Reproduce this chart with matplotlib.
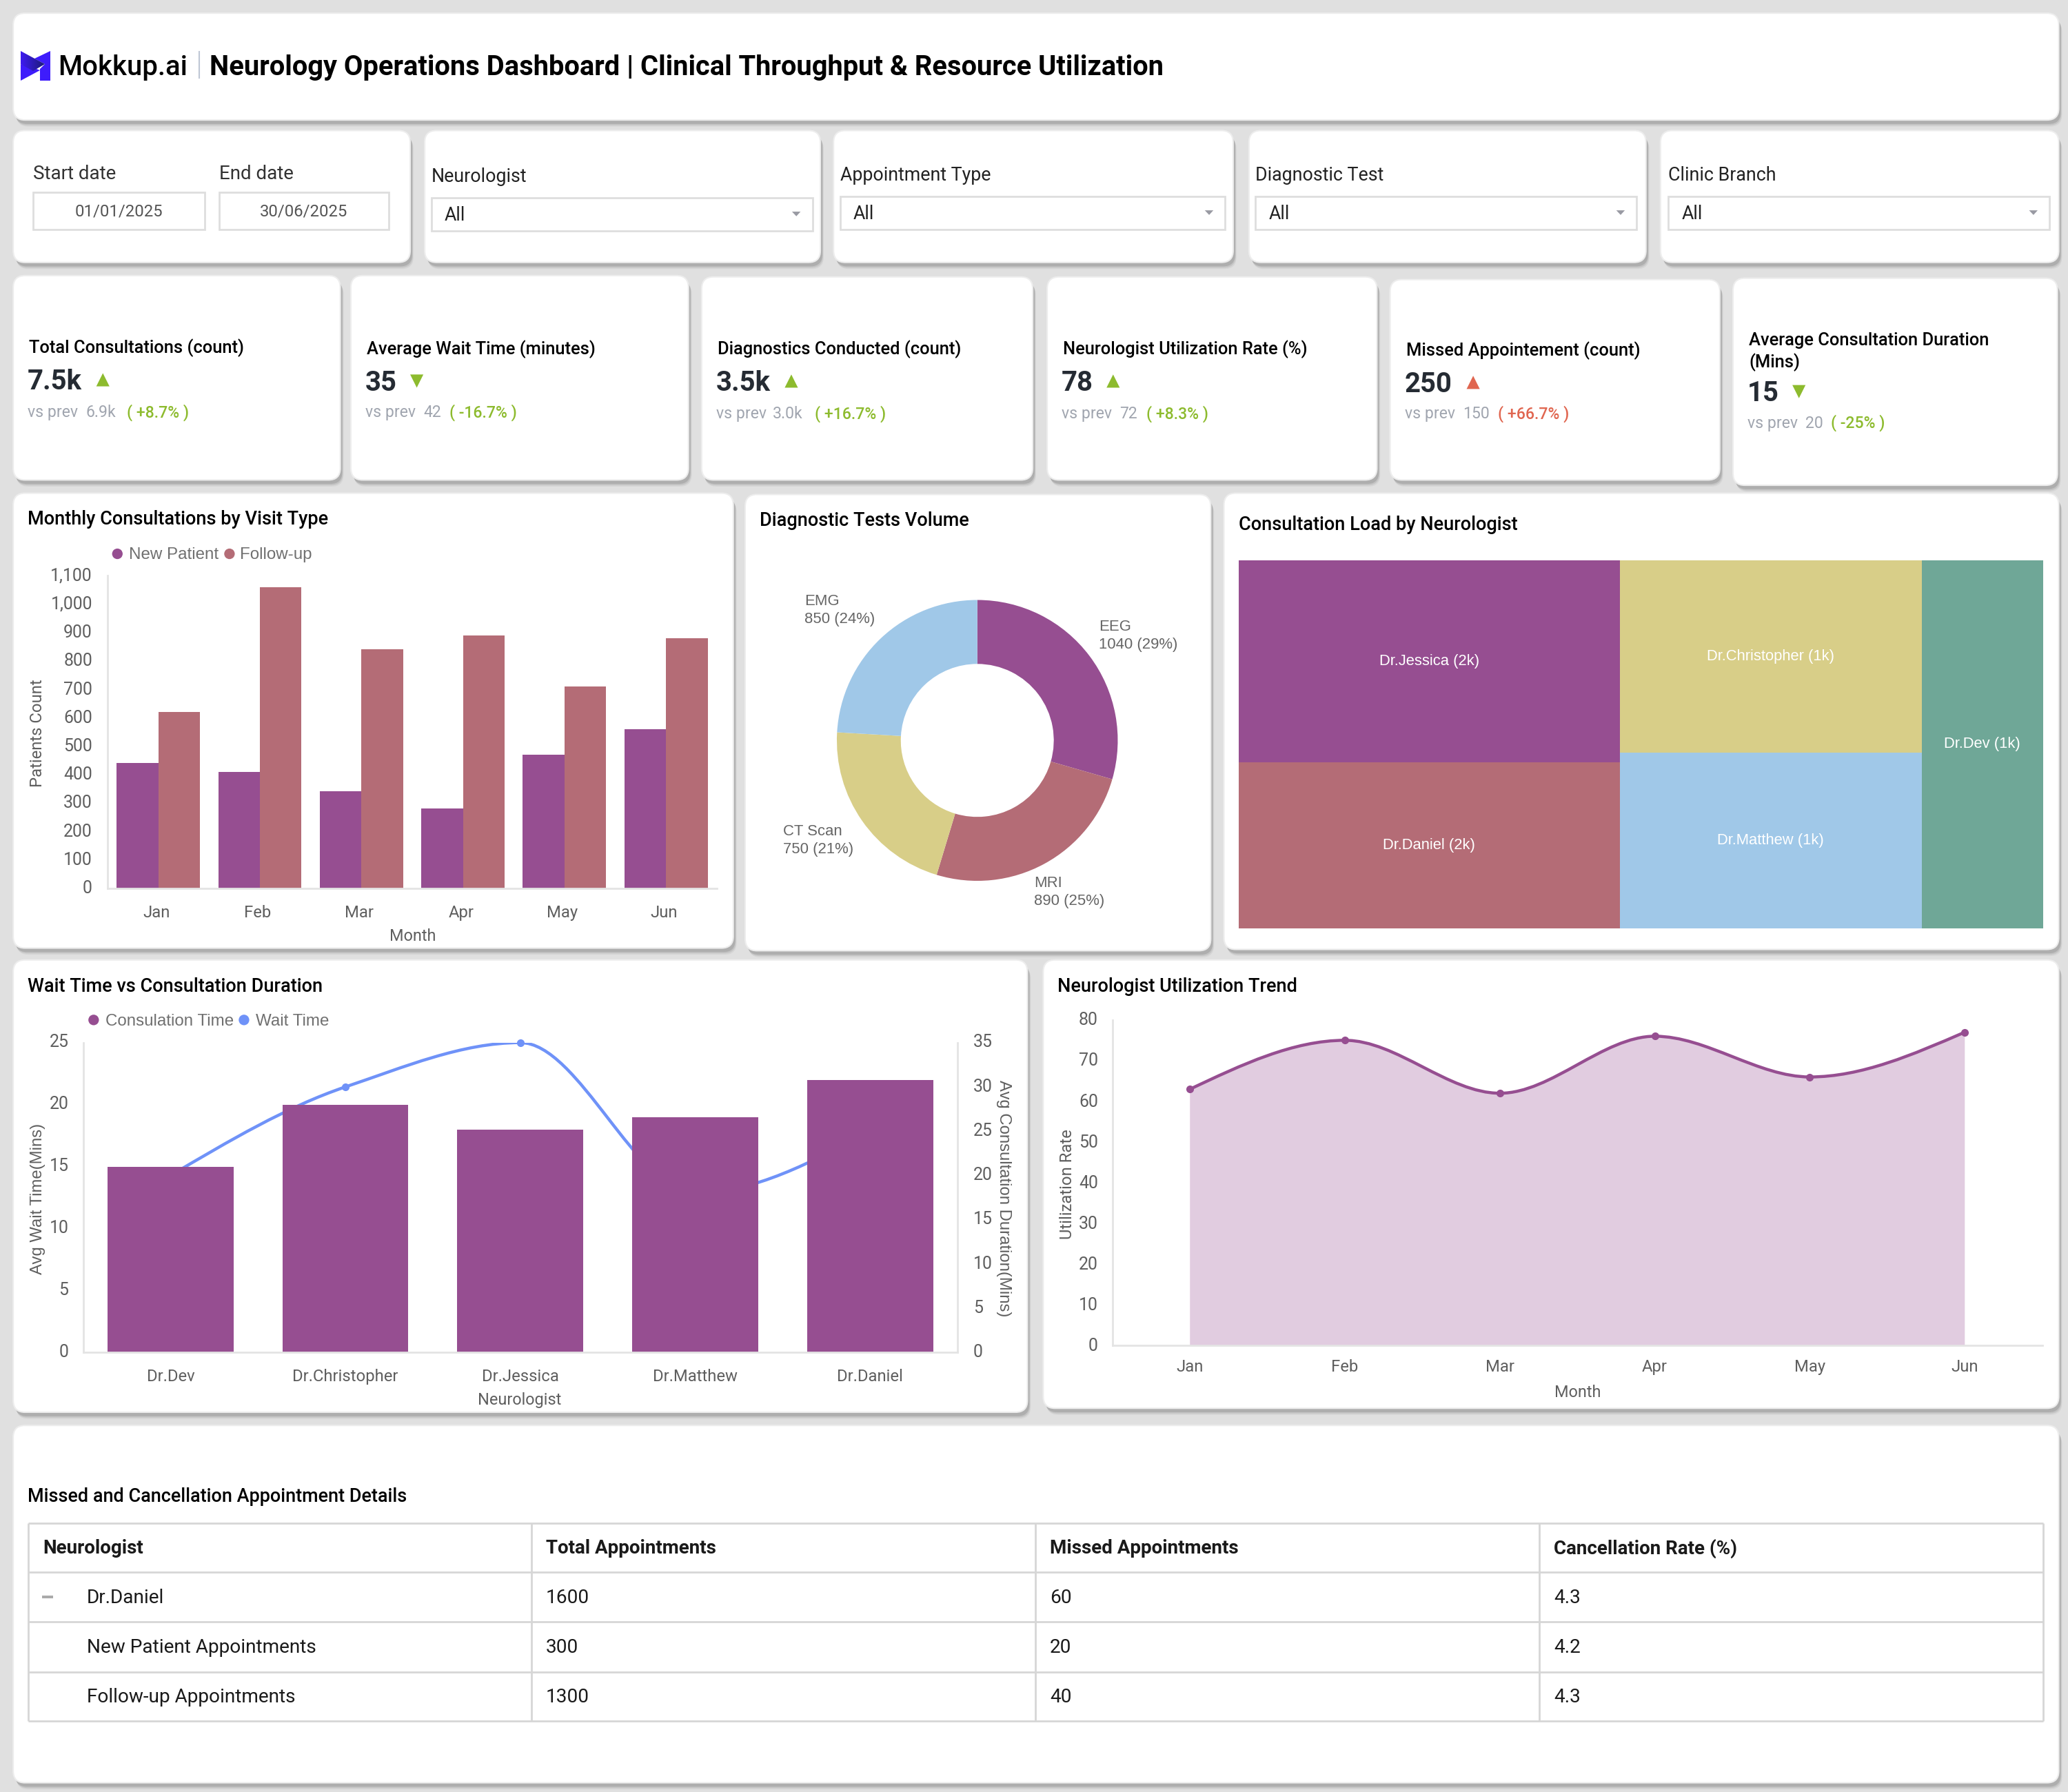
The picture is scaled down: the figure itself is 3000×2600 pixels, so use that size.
# Neurology operations dashboard, drawn with matplotlib

import matplotlib
matplotlib.use("Agg")
import matplotlib.pyplot as plt
import numpy as np
from matplotlib.colors import LinearSegmentedColormap
from matplotlib.patches import FancyBboxPatch, PathPatch, Polygon, Rectangle
from matplotlib.path import Path
from matplotlib.transforms import ScaledTranslation

plt.rcParams['font.family'] = ['Roboto', 'DejaVu Sans']

# Data
months = ['Jan', 'Feb', 'Mar', 'Apr', 'May', 'Jun']
new_patient = [440, 410, 340, 280, 470, 560]
follow_up = [620, 1060, 840, 890, 710, 880]

test_names = ['EEG', 'MRI', 'CT Scan', 'EMG']
test_counts = [1040, 890, 750, 850]

load_col1 = ['Dr.Jessica', 'Dr.Daniel']
load_col1_values = [1950, 1600]
load_col2 = ['Dr.Christopher', 'Dr.Matthew']
load_col2_values = [1470, 1340]
load_col3 = ['Dr.Dev']
load_col3_values = [1130]

neurologists = ['Dr.Dev', 'Dr.Christopher', 'Dr.Jessica', 'Dr.Matthew', 'Dr.Daniel']
consultation_time = [15, 20, 18, 19, 22]
wait_time = [20, 30, 35, 18, 25]

utilization = [63, 75, 62, 76, 66, 77]

filter_names = ['Neurologist', 'Appointment Type', 'Diagnostic Test', 'Clinic Branch']

kpi_titles = ['Total Consultations (count)', 'Average Wait Time (minutes)',
              'Diagnostics Conducted (count)', 'Neurologist Utilization Rate (%)',
              'Missed Appointement (count)', 'Average Consultation Duration\n(Mins)']
kpi_values = ['7.5k', '35', '3.5k', '78', '250', '15']
kpi_prev = ['6.9k', '42', '3.0k', '72', '150', '20']
kpi_delta = ['+8.7%', '-16.7%', '+16.7%', '+8.3%', '+66.7%', '-25%']
kpi_up = [True, False, True, True, True, False]
kpi_good = [True, True, True, True, False, True]

table_header = ['Neurologist', 'Total Appointments', 'Missed Appointments', 'Cancellation Rate (%)']
table_rows = [['Dr.Daniel', '1600', '60', '4.3'],
              ['New Patient Appointments', '300', '20', '4.2'],
              ['Follow-up Appointments', '1300', '40', '4.3']]

# Colours
PURPLE = '#964E91'
ROSE = '#B46C76'
YELLOW = '#D8CE88'
BLUE = '#A0C8E8'
TEAL = '#6FA797'
LINE_BLUE = '#6F92F8'
AREA = '#E1CCE0'
GREEN = '#8DBB2E'
RED = '#E06650'
TICK = '#5F5F5F'

# All layout numbers are on a 1568 wide canvas, SCALE brings them to pixels
W, H = 1568, 1359
SCALE = 3000 / W

fig = plt.figure(figsize=(30, 26), dpi=100, facecolor='#E0E0E0')
bg = fig.add_axes([0, 0, 1, 1], zorder=0)
bg.set_xlim(0, W)
bg.set_ylim(H, 0)
bg.set_autoscale_on(False)
bg.axis('off')


def pt(size):
    # canvas units to font points
    return size * SCALE * 72 / 100


def txt(x, y, s, size=15, color='black', weight='normal', family=None, ha='left', va='center', **kw):
    fam = family if family else ['Roboto', 'DejaVu Sans']
    # Roboto sits a little high with va=center
    return bg.text(x, y + 1, s, fontsize=pt(size), color=color, fontweight=weight,
                   family=fam, ha=ha, va=va, **kw)


def card(x0, y0, x1, y1):
    # soft shadow first, card on top
    for off, alpha in [(5, 0.10), (4, 0.18), (3, 0.28)]:
        bg.add_patch(FancyBboxPatch((x0 + off * 0.5, y0 + off), x1 - x0, y1 - y0,
                                    boxstyle='round,pad=0,rounding_size=9',
                                    fc='#777777', ec='none', alpha=alpha))
    bg.add_patch(FancyBboxPatch((x0, y0), x1 - x0, y1 - y0, boxstyle='round,pad=0,rounding_size=9',
                                fc='white', ec='#EDEDED', lw=1.5))


def chart_axes(x0, y0, x1, y1):
    # y0 is the top of the plot, y1 the bottom
    ax = fig.add_axes([x0 / W, 1 - y1 / H, (x1 - x0) / W, (y1 - y0) / H], zorder=2)
    ax.patch.set_alpha(0)
    return ax


def style_axes(ax):
    for side in ['top', 'right']:
        ax.spines[side].set_visible(False)
    ax.spines['left'].set_color('#E4E4E4')
    ax.spines['bottom'].set_color('#E4E4E4')
    ax.spines['left'].set_linewidth(2)
    ax.spines['bottom'].set_linewidth(2)
    ax.tick_params(length=0, labelsize=pt(13), labelcolor=TICK)
    ax.tick_params(axis='x', labelsize=pt(12.5))


def nudge(labels, dx=0, dy=0):
    # move tick labels by canvas units, dy up
    for lab in labels:
        lab.set_transform(lab.get_transform() + ScaledTranslation(dx * SCALE / 100, dy * SCALE / 100,
                                                                  fig.dpi_scale_trans))


def monotone_path(xs, ys, close_to=None):
    # monotone cubic through the points, as bezier segments
    xs = np.asarray(xs, float)
    ys = np.asarray(ys, float)
    h = np.diff(xs)
    d = np.diff(ys) / h
    m = np.zeros(len(xs))
    for i in range(1, len(xs) - 1):
        if d[i - 1] * d[i] > 0:
            m[i] = 2 * d[i - 1] * d[i] / (d[i - 1] + d[i])
    m[0] = (3 * d[0] - m[1]) / 2
    m[-1] = (3 * d[-1] - m[-2]) / 2
    verts = [(xs[0], ys[0])]
    codes = [Path.MOVETO]
    for i in range(len(h)):
        verts += [(xs[i] + h[i] / 3, ys[i] + m[i] * h[i] / 3),
                  (xs[i + 1] - h[i] / 3, ys[i + 1] - m[i + 1] * h[i] / 3),
                  (xs[i + 1], ys[i + 1])]
        codes += [Path.CURVE4] * 3
    if close_to is not None:
        verts += [(xs[-1], close_to), (xs[0], close_to), (xs[0], ys[0])]
        codes += [Path.LINETO, Path.LINETO, Path.CLOSEPOLY]
    return Path(verts, codes)


def logo_poly(points):
    # the logo was measured in real pixels
    return [(px / SCALE, py / SCALE) for px, py in points]


# Header card
card(10, 10, 1561, 91)
bg.add_patch(Polygon(logo_poly([(73, 74), (73, 117), (58, 117), (58, 100), (65, 93), (50, 85)]),
                     fc='#3E1CFB', ec='none', joinstyle='round', zorder=3))
bg.add_patch(Polygon(logo_poly([(30, 93), (30, 117), (58, 102), (48, 98)]), fc='#3E1CFB', ec='none', zorder=3))
arrow = Polygon(logo_poly([(30, 74), (65, 93), (48, 103), (30, 93)]), fc='none', ec='none')
bg.add_patch(arrow)
logo_cmap = LinearSegmentedColormap.from_list('logo', ['#3E1CF0', '#1C1A78'])
grad = bg.imshow(np.linspace(0, 1, 40).reshape(1, -1), cmap=logo_cmap, aspect='auto', zorder=4,
                 extent=(30 / SCALE, 65 / SCALE, 103 / SCALE, 74 / SCALE))
grad.set_clip_path(arrow)
txt(44, 50, 'Mokkup.ai', size=21, weight='medium')
bg.plot([151, 151], [39, 59], color='#BFC7D5', lw=1.5)
txt(159, 50, 'Neurology Operations Dashboard | Clinical Throughput & Resource Utilization',
    size=20.85, weight='bold')

# Filter cards
filter_cards = [(10, 311), (322, 622), (632, 935), (947, 1248), (1259, 1561)]
for x0, x1 in filter_cards:
    card(x0, 99, x1, 199)

txt(25, 131, 'Start date', size=14.5, color='#333333')
txt(166, 131, 'End date', size=14.5, color='#333333')
for x0, x1, s in [(25, 155, '01/01/2025'), (166, 295, '30/06/2025')]:
    bg.add_patch(Rectangle((x0, 146), x1 - x0, 28, fc='white', ec='#DEDEDE', lw=2))
    txt((x0 + x1) / 2, 159.5, s, size=12.5, color='#555555', ha='center')

drop_left = [327, 637, 952, 1265]
drop_right = [616, 929, 1241, 1554]
drop_top = [150, 149, 149, 149]
for name, x0, x1, top in zip(filter_names, drop_left, drop_right, drop_top):
    txt(x0, top - 17, name, size=14, color='#222222')
    bg.add_patch(Rectangle((x0, top), x1 - x0, 25, fc='white', ec='#DEDEDE', lw=2))
    txt(x0 + 10, top + 12.5, 'All', size=14, color='#222222')
    bg.add_patch(Polygon([(x1 - 15.5, top + 10.5), (x1 - 9, top + 10.5), (x1 - 12.2, top + 14)],
                         fc='#999AA3', ec='none'))

# KPI cards
kpi_boxes = [(10, 209, 258, 364), (266, 209, 522, 364), (532, 210, 783, 364),
             (794, 210, 1044, 364), (1054, 212, 1304, 364), (1314, 211, 1560, 368)]
kpi_title_pos = [(22, 263), (278, 264), (544, 264), (806, 264), (1066, 265), (1326, 266)]
kpi_value_y = [288, 289, 289, 289, 290, 297]
kpi_arrow_x = [78, 316, 600, 844, 1117, 1364]
kpi_line_y = [312, 312, 313, 313, 313, 320]
kpi_prev_x = [65, 321, 586, 849, 1109, 1369]
kpi_delta_x = [96, 341, 618, 869, 1136, 1388]

for i, box in enumerate(kpi_boxes):
    card(*box)
    tx, ty = kpi_title_pos[i]
    txt(tx, ty, kpi_titles[i], size=13.35, weight='medium', linespacing=1.3)
    txt(tx - 1, kpi_value_y[i] + 0.5, kpi_values[i], size=21, weight='bold', color='#252B33')
    col = GREEN if kpi_good[i] else RED
    ax_, ay = kpi_arrow_x[i], kpi_value_y[i]
    if kpi_up[i]:
        tri = [(ax_ - 5, ay + 5), (ax_ + 5, ay + 5), (ax_, ay - 5)]
    else:
        tri = [(ax_ - 5, ay - 5), (ax_ + 5, ay - 5), (ax_, ay + 5)]
    bg.add_patch(Polygon(tri, fc=col, ec='none'))
    txt(tx - 1, kpi_line_y[i], 'vs prev', size=12, color='#A0A5AF')
    txt(kpi_prev_x[i], kpi_line_y[i], kpi_prev[i], size=12, color='#A0A5AF')
    txt(kpi_delta_x[i], kpi_line_y[i], '( ' + kpi_delta[i] + ' )', size=12, color=col, weight='medium')

# Monthly consultations
card(10, 374, 556, 719)
txt(21, 393, 'Monthly Consultations by Visit Type', size=14.2, weight='medium')
bg.scatter([89, 174], [420, 420], s=pt(8) ** 2, c=[PURPLE, ROSE], linewidths=0)
txt(98, 420, 'New Patient', size=12.6, color='#707070', family='Liberation Sans')
txt(182, 420, 'Follow-up', size=12.6, color='#707070', family='Liberation Sans')

ax1 = chart_axes(81.5, 436.5, 543.5, 673.5)
x = np.arange(len(months))
ax1.bar(x - 0.205, new_patient, 0.41, color=PURPLE)
ax1.bar(x + 0.205, follow_up, 0.41, color=ROSE)
ax1.set_xlim(-0.5, 5.5)
ax1.set_ylim(0, 1100)
ax1.set_xticks(x, months)
ax1.set_yticks(np.arange(0, 1101, 100), [f'{v:,}' for v in range(0, 1101, 100)])
style_axes(ax1)
ax1.tick_params(axis='y', pad=pt(11.5))
ax1.tick_params(axis='x', pad=pt(13))
# the month labels sit a bit left of their bars
nudge(ax1.get_xticklabels(), dx=-1.5)
nudge(ax1.get_yticklabels(), dy=1)
txt(313, 709, 'Month', size=12.3, color=TICK, ha='center')
txt(28.5, 555, 'Patients Count', size=12.5, color=TICK, ha='center', rotation=90)

# Diagnostic tests donut
card(565, 375, 918, 721)
txt(576, 394, 'Diagnostic Tests Volume', size=14.2, weight='medium')
ax2 = chart_axes(741 - 106.5, 561.5 - 106.5, 741 + 106.5, 561.5 + 106.5)
ax2.pie(test_counts, colors=[PURPLE, ROSE, YELLOW, BLUE], startangle=90, counterclock=False,
        radius=1, wedgeprops=dict(width=1 - 58 / 106.5, linewidth=0))
ax2.set_xlim(-1, 1)
ax2.set_ylim(-1, 1)
total_tests = sum(test_counts)
donut_label_pos = [(833, 481), (784, 675.5), (594, 636.5), (610, 462)]
for name, val, (lx, ly) in zip(test_names, test_counts, donut_label_pos):
    txt(lx, ly, f'{name}\n{val} ({round(100 * val / total_tests)}%)', size=11.6, color='#666666',
        family='Liberation Sans', linespacing=1.3)

# Consultation load treemap
card(928, 374, 1561, 720)
txt(939, 397, 'Consultation Load by Neurologist', size=14.2, weight='medium')
ax3 = chart_axes(939, 425, 1549, 704)
columns = [(load_col1, load_col1_values, [PURPLE, ROSE]),
           (load_col2, load_col2_values, [YELLOW, BLUE]),
           (load_col3, load_col3_values, [TEAL])]
load_total = sum(sum(c[1]) for c in columns)
left = 0
for names, vals, cols in columns:
    col_w = sum(vals) / load_total
    top = 0
    for n, v, c in zip(names, vals, cols):
        h = v / sum(vals)
        ax3.add_patch(Rectangle((left, top), col_w, h, fc=c, ec='none'))
        ax3.text(left + col_w / 2, top + h / 2, f'{n} ({round(v / 1000)}k)', color='white',
                 fontsize=pt(11.5), family='Liberation Sans', ha='center', va='center')
        top += h
    left += col_w
ax3.set_xlim(0, 1)
ax3.set_ylim(1, 0)
ax3.axis('off')

# Wait time vs consultation
card(10, 728, 779, 1071)
txt(21, 747, 'Wait Time vs Consultation Duration', size=14.2, weight='medium')
bg.scatter([71, 185], [773.5, 773.5], s=pt(8) ** 2, c=[PURPLE, LINE_BLUE], linewidths=0)
txt(80, 773.5, 'Consulation Time', size=12.6, color='#707070', family='Liberation Sans')
txt(194, 773.5, 'Wait Time', size=12.6, color='#707070', family='Liberation Sans')

ax4 = chart_axes(63, 790.7, 726, 1025.7)
ax5 = ax4.twinx()
ax5.patch.set_alpha(0)
ax4.set_zorder(3)
ax5.set_zorder(2)
pos = np.arange(len(neurologists))
ax4.bar(pos, consultation_time, 0.72, color=PURPLE)
ax5.add_patch(PathPatch(monotone_path(pos, wait_time), fc='none', ec=LINE_BLUE, lw=3.2))
ax5.plot(pos, wait_time, 'o', color=LINE_BLUE, ms=7, clip_on=False)
ax4.set_xlim(-0.5, 4.5)
ax4.set_ylim(0, 25)
ax5.set_ylim(0, 35)
ax4.set_xticks(pos, neurologists)
ax4.set_yticks(range(0, 26, 5))
ax5.set_yticks(range(0, 36, 5))
style_axes(ax4)
for side in ['top', 'left', 'bottom']:
    ax5.spines[side].set_visible(False)
ax5.spines['right'].set_color('#E4E4E4')
ax5.spines['right'].set_linewidth(2)
ax5.tick_params(length=0, labelsize=pt(13), labelcolor=TICK, pad=pt(12))
ax4.tick_params(axis='y', pad=pt(11))
ax4.tick_params(axis='x', pad=pt(12.5))
nudge(ax4.get_yticklabels(), dy=1.5)
nudge(ax5.get_yticklabels(), dy=1.5)
txt(394, 1061, 'Neurologist', size=12.3, color=TICK, ha='center')
txt(28.5, 908, 'Avg Wait Time(Mins)', size=12.5, color=TICK, ha='center', rotation=90,
    family='Liberation Sans')
txt(761, 908, 'Avg Consultation Duration(Mins)', size=12.5, color=TICK, ha='center', rotation=270,
    family='Liberation Sans')

# Utilization trend
card(791, 728, 1561, 1068)
txt(802, 747, 'Neurologist Utilization Trend', size=14.2, weight='medium')
ax6 = chart_axes(843.5, 773.5, 1548.5, 1020.5)
mx = np.arange(len(months))
ax6.add_patch(PathPatch(monotone_path(mx, utilization, close_to=0), fc=AREA, ec='none'))
ax6.add_patch(PathPatch(monotone_path(mx, utilization), fc='none', ec=PURPLE, lw=3.2))
ax6.plot(mx, utilization, 'o', color=PURPLE, ms=7, clip_on=False)
ax6.set_xlim(-0.5, 5.5)
ax6.set_ylim(0, 80)
ax6.set_xticks(mx, months)
ax6.set_yticks(range(0, 81, 10))
style_axes(ax6)
ax6.tick_params(axis='y', pad=pt(11))
ax6.tick_params(axis='x', pad=pt(10))
nudge(ax6.get_yticklabels(), dy=1)
txt(1196, 1055, 'Month', size=12.3, color=TICK, ha='center')
txt(809.5, 897, 'Utilization Rate', size=12.5, color=TICK, ha='center', rotation=90)

# Appointment table
card(10, 1081, 1561, 1352)
txt(21, 1134, 'Missed and Cancellation Appointment Details', size=14.1, weight='medium')
col_x = [21.5, 403, 785, 1167, 1549]
row_y = [1155, 1192.5, 1230, 1268, 1305]
for cx in col_x:
    bg.plot([cx, cx], [row_y[0], row_y[-1]], color='#D6D6D6', lw=2, solid_capstyle='butt')
for ry in row_y:
    bg.plot([col_x[0], col_x[-1]], [ry, ry], color='#D6D6D6', lw=2, solid_capstyle='butt')
for j, head in enumerate(table_header):
    txt(col_x[j] + 11, (row_y[0] + row_y[1]) / 2 - 0.5, head, size=14.5, weight='bold', color='#1A1A1A')
for i, row in enumerate(table_rows):
    cy = (row_y[i + 1] + row_y[i + 2]) / 2 - 0.5
    for j, val in enumerate(row):
        tx = 65.5 if i == 0 and j == 0 else 66 if j == 0 else col_x[j] + 11
        txt(tx, cy, val, size=14.65, color='#1A1A1A')
bg.add_patch(Rectangle((32, row_y[1] + 17.5), 8, 2, fc='#AAAAAA', ec='none'))

fig.savefig('out.png', dpi=100, facecolor=fig.get_facecolor())
